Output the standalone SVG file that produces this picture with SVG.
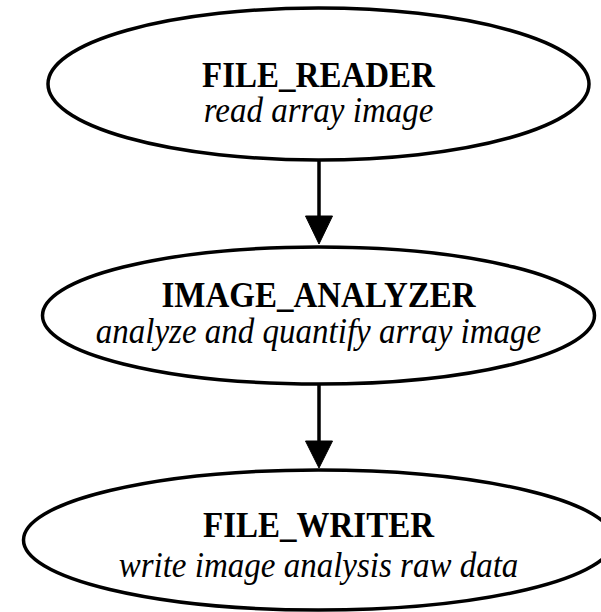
<svg xmlns="http://www.w3.org/2000/svg" width="601" height="612" viewBox="0 0 601 612">
<defs>
<style>
.node ellipse{fill:#fff;stroke:#000;stroke-width:3.5}
.t{font-family:"Liberation Serif","Times New Roman",serif;font-size:33px;font-weight:bold;text-anchor:middle;fill:#000}
.s{font-family:"Liberation Serif","Times New Roman",serif;font-size:33px;font-style:italic;text-anchor:middle;fill:#000}
.edge line{stroke:#000;stroke-width:3.5}
.edge polygon{fill:#000;stroke:#000;stroke-width:1}
</style>
</defs>
<rect width="601" height="612" fill="#fff"/>
<g id="connectors" class="edge">
<line x1="319" y1="160" x2="319" y2="218"/>
<polygon points="305.5,216 332.5,216 319,244"/>
<line x1="319" y1="384" x2="319" y2="443"/>
<polygon points="305.5,441 332.5,441 319,468"/>
</g>
<g id="file_reader" class="node">
<ellipse cx="318.5" cy="84" rx="270.5" ry="76"/>
<text class="t" transform="translate(318.5,87) scale(1,1.06)">FILE_READER</text>
<text class="s" transform="translate(318.5,122) scale(1,1.06)">read array image</text>
</g>
<g id="image_analyzer" class="node">
<ellipse cx="318.5" cy="315.5" rx="276" ry="68.5"/>
<text class="t" transform="translate(318.5,307) scale(1,1.06)">IMAGE_ANALYZER</text>
<text class="s" transform="translate(318.5,343) scale(1,1.06)">analyze and quantify array image</text>
</g>
<g id="file_writer" class="node">
<ellipse cx="318.5" cy="540" rx="295" ry="70"/>
<text class="t" transform="translate(318.5,537) scale(1,1.06)">FILE_WRITER</text>
<text class="s" transform="translate(318.5,577) scale(1,1.06)">write image analysis raw data</text>
</g>
</svg>
